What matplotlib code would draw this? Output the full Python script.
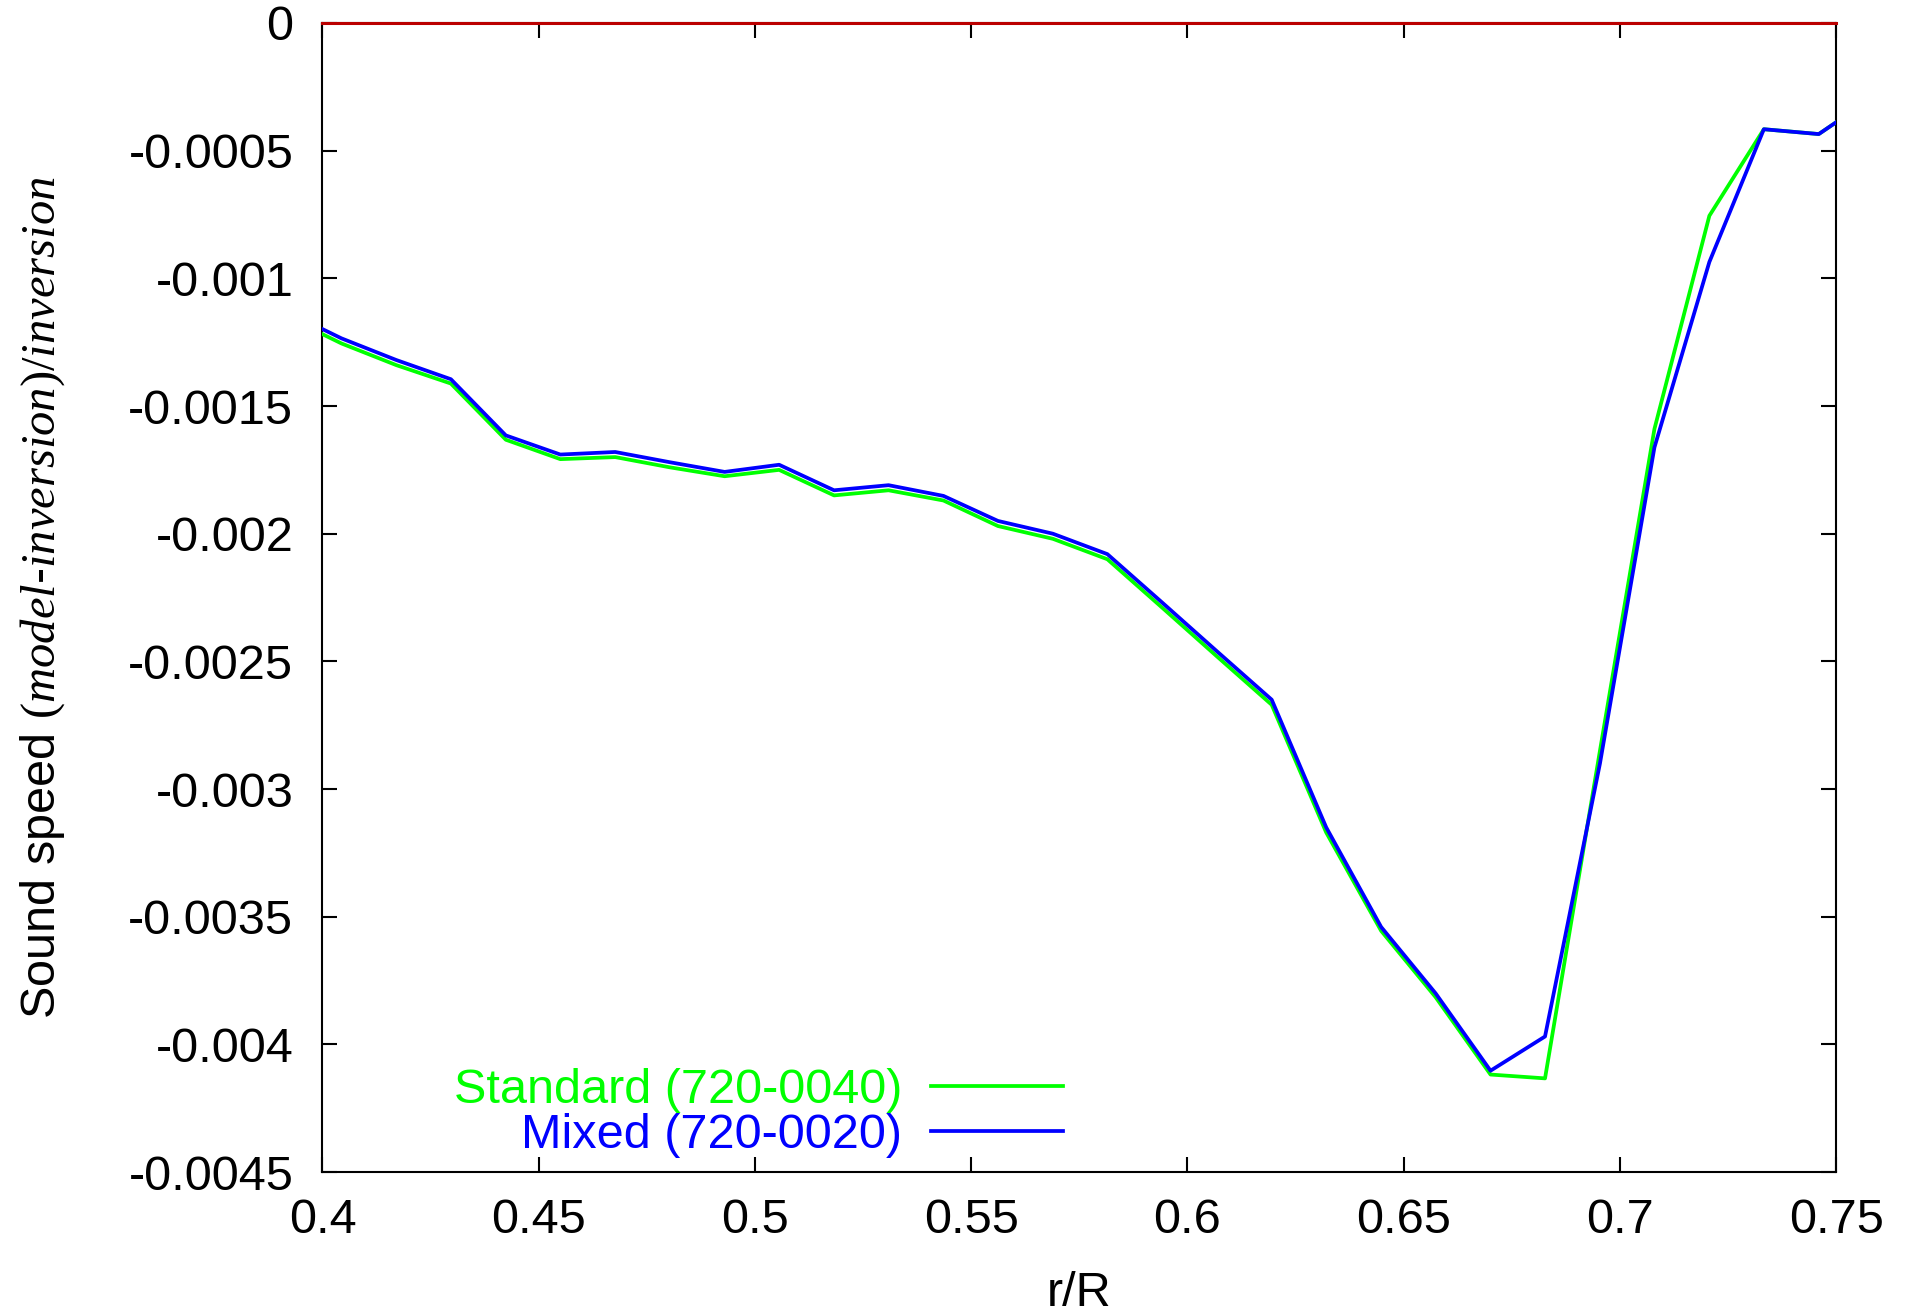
import numpy as np
import matplotlib
matplotlib.use("Agg")
import matplotlib.pyplot as plt

plt.rcParams['font.family'] = ['Liberation Sans', 'DejaVu Sans']
plt.rcParams['mathtext.fontset'] = 'custom'
plt.rcParams['mathtext.it'] = 'Liberation Serif:italic'
plt.rcParams['mathtext.rm'] = 'Liberation Serif'

# radial grid of the two models (r/R)
r = [0.3917, 0.4044, 0.4171, 0.4297, 0.4424, 0.4550, 0.4677, 0.4803, 0.4930,
     0.5056, 0.5183, 0.5309, 0.5436, 0.5562, 0.5689, 0.5815, 0.5942, 0.6068,
     0.6195, 0.6321, 0.6448, 0.6574, 0.6701, 0.6827, 0.6954, 0.7080, 0.7207,
     0.7333, 0.7460, 0.7586]

# relative sound speed difference, mixed model
mixed = [-0.00113, -0.001235, -0.00132, -0.001395, -0.001615, -0.00169, -0.00168,
         -0.00172, -0.001758, -0.00173, -0.00183, -0.00181, -0.001852, -0.00195,
         -0.002, -0.00208, -0.00227, -0.00246, -0.00265, -0.00315, -0.00354,
         -0.0038, -0.004103, -0.003969, -0.0029, -0.001662, -0.000936,
         -0.000416, -0.000435, -0.00029]

# relative sound speed difference, standard model
standard = [-0.00115, -0.001255, -0.00134, -0.001412, -0.001632, -0.001708, -0.0017,
            -0.00174, -0.001775, -0.00175, -0.00185, -0.00183, -0.00187, -0.00197,
            -0.00202, -0.0021, -0.00229, -0.00248, -0.00267, -0.00317, -0.003555,
            -0.003815, -0.004118, -0.004133, -0.00285, -0.00159, -0.000755,
            -0.000416, -0.000435, -0.00029]

xticks = [0.4, 0.45, 0.5, 0.55, 0.6, 0.65, 0.7, 0.75]
xticklabels = ['0.4', '0.45', '0.5', '0.55', '0.6', '0.65', '0.7', '0.75']
yticks = [0, -0.0005, -0.001, -0.0015, -0.002, -0.0025, -0.003, -0.0035, -0.004, -0.0045]
yticklabels = ['0', '-0.0005', '-0.001', '-0.0015', '-0.002', '-0.0025', '-0.003',
               '-0.0035', '-0.004', '-0.0045']

fig = plt.figure(figsize=(19.08, 13.14), dpi=100)
ax = fig.add_axes([0.169, 0.108, 0.7933, 0.8745])

fs = 35
ax.plot(r, standard, color='#00ff00', lw=2.7, label='Standard (720-0040)', zorder=3)
ax.plot(r, mixed, color='#0000ff', lw=2.7, label='Mixed (720-0020)', zorder=4)
ax.axhline(0, color='#bb0000', lw=2.2, zorder=5, clip_on=False)

ax.set_xlim(0.4, 0.75)
ax.set_ylim(-0.0045, 0)
ax.set_xticks(xticks)
ax.set_xticklabels(xticklabels)
ax.set_yticks(yticks)
ax.set_yticklabels(yticklabels)
ax.tick_params(direction='in', length=11, width=1.5, top=True, right=True,
               labelsize=fs)
ax.tick_params(axis='x', pad=19)
ax.tick_params(axis='y', pad=21)
for s in ax.spines.values():
    s.set_linewidth(1.5)

ax.set_xlabel('r/R', fontsize=fs, labelpad=20)
ax.set_ylabel(r'Sound speed $\mathit{(model}$-$\mathit{inversion)/inversion}$',
              fontsize=fs, labelpad=44)

leg = ax.legend(loc='lower right', bbox_to_anchor=(0.489, 0.012), frameon=False,
                markerfirst=False, fontsize=fs, handlelength=2.7,
                handletextpad=0.6, labelspacing=0.0, borderpad=0,
                borderaxespad=0, labelcolor='linecolor')

fig.savefig('out.png', dpi=100)
